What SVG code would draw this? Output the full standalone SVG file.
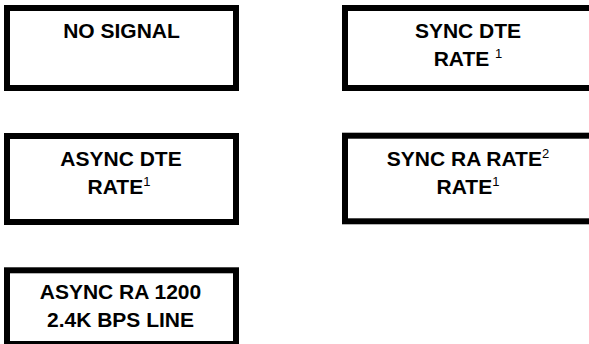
<svg xmlns="http://www.w3.org/2000/svg" width="589" height="344" viewBox="0 0 589 344">
<style>
.box{fill:#fff;stroke:#000;stroke-width:6}
.t{font-family:"Liberation Sans",Arial,sans-serif;font-weight:bold;font-size:21px;fill:#000;text-anchor:middle}
.s{font-size:13px;font-weight:normal}
</style>
<rect width="589" height="344" fill="#fff"/>
<g id="connectors"></g>
<g id="no-signal">
<rect class="box" x="7" y="8" width="229" height="80"/>
<text class="t" x="121.5" y="38">NO SIGNAL</text>
</g>
<g id="sync-dte">
<rect class="box" x="345" y="8" width="260" height="80"/>
<text class="t" x="468" y="37.5">SYNC DTE</text>
<text class="t" x="468" y="66">RATE <tspan class="s" dy="-8">1</tspan></text>
</g>
<g id="async-dte">
<rect class="box" x="7" y="136" width="229" height="86"/>
<text class="t" x="121" y="165.7">ASYNC DTE</text>
<text class="t" x="119" y="194">RATE<tspan class="s" dy="-8">1</tspan></text>
</g>
<g id="sync-ra">
<rect class="box" x="345" y="135.7" width="260" height="85.6"/>
<text class="t" x="468" y="165.7">SYNC RA RATE<tspan class="s" dy="-8">2</tspan></text>
<text class="t" x="468" y="194">RATE<tspan class="s" dy="-8">1</tspan></text>
</g>
<g id="async-ra">
<rect class="box" x="7" y="270.3" width="229" height="73.7"/>
<text class="t" x="120.5" y="299">ASYNC RA 1200</text>
<text class="t" x="120.5" y="327">2.4K BPS LINE</text>
</g>
</svg>
